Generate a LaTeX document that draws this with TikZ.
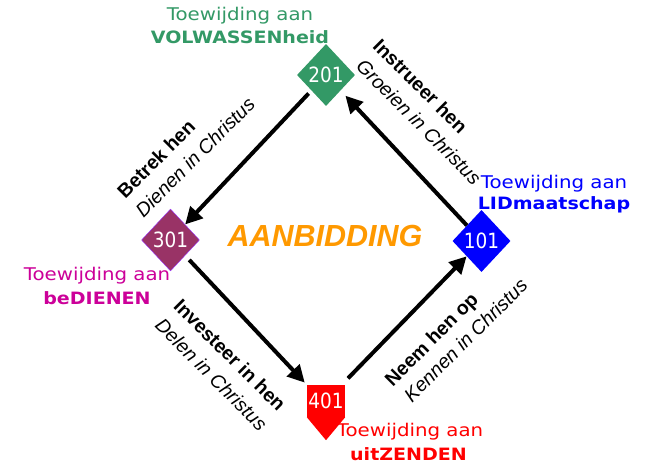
\documentclass[tikz,border=0pt]{standalone}
\usepackage{fontspec}
\usetikzlibrary{shapes.geometric,arrows.meta}
\newfontfamily\verd[FakeStretch=1.13]{DejaVu Sans}
\newfontfamily\verdb[FakeStretch=1.12]{DejaVu Sans}
\newfontfamily\dig[FakeStretch=0.88]{DejaVu Sans}
\newfontfamily\arialf{Liberation Sans}
\definecolor{cgreen}{HTML}{339966}
\definecolor{cpurple}{HTML}{993366}
\definecolor{cviolet}{HTML}{9933FF}
\definecolor{cmagenta}{HTML}{CC0099}
\definecolor{cblue}{HTML}{0000FF}
\definecolor{cred}{HTML}{FF0000}
\definecolor{corange}{HTML}{FF9900}
\begin{document}
\begin{tikzpicture}[x=1pt,y=-1pt,
  dia/.style={shape=diamond, minimum width=58pt, minimum height=62pt, inner sep=0pt, text=white, font=\dig\fontsize{21}{21}\selectfont},
  arr/.style={line width=4pt, -{Triangle[length=17pt,width=17pt]}},
  lab/.style={font=\verd\fontsize{17.5}{17.5}\selectfont, inner sep=0pt},
  labb/.style={font=\verdb\bfseries\fontsize{17}{17}\selectfont, inner sep=0pt},
  rb/.style={font=\arialf\bfseries\fontsize{19.5}{19.5}\selectfont, inner sep=0pt},
  ri/.style={font=\arialf\itshape\fontsize{19.5}{19.5}\selectfont, inner sep=0pt},
]
\useasboundingbox[fill=white] (0,0) rectangle (650,466);

% diamonds
\node[dia, fill=cgreen] (n201) at (326,75) {201};
\node[dia, fill=cpurple, draw=cviolet, line width=0.4pt] (n301) at (170.5,240) {301};
\node[dia, fill=cblue] (n101) at (481.5,241) {101};
% 401 pentagon
\node[fill=cred, minimum width=38pt, minimum height=32pt, inner sep=0pt, text=white,
      font=\dig\fontsize{21}{21}\selectfont] (n401) at (326,401) {401};
\fill[cred] (n401.south west) -- (n401.south east) -- ([yshift=-23pt]n401.south) -- cycle;

% arrows
\draw[arr, shorten >=7pt] (n101) -- (n201);
\draw[arr, shorten <=4pt] (n201) -- (n301);
\draw[arr, shorten <=6pt, shorten >=3pt] (n301) -- (n401.north west);
\draw[arr, shorten <=9pt] (n401) -- (n101);

% centre text
\node[font=\arialf\bfseries\itshape\fontsize{30.5}{30.5}\selectfont, text=corange, inner sep=0pt] (aan) at (325,236) {AANBIDDING};

% coloured labels
\node[lab, text=cgreen] (g1) at (240,16) {Toewijding aan};
\node[labb, text=cgreen] (g2) at (240,37) {VOLWASSENheid};
\node[lab, text=cmagenta] (m1) at (97,276) {Toewijding aan};
\node[labb, text=cmagenta] (m2) at (97,298) {beDIENEN};
\node[lab, text=cblue] (b1) at (554,184) {Toewijding aan};
\node[labb, text=cblue] (b2) at (554,205) {LIDmaatschap};
\node[lab, text=cred] (r1) at (410,432) {Toewijding aan};
\node[labb, text=cred] (r2) at (408.5,454) {uitZENDEN};

% rotated labels
\node[rb, rotate=-45] (t1a) at (420.5,86) {Instrueer hen};
\node[ri, rotate=-45] (t1b) at (419,122) {Groeien in Christus};
\node[rb, rotate=45] (t2a) at (156,159) {Betrek hen};
\node[ri, rotate=45] (t2b) at (195,157) {Dienen in Christus};
\node[rb, rotate=-45] (t3a) at (230,355) {Investeer in hen};
\node[ri, rotate=-45] (t3b) at (211.5,374.5) {Delen in Christus};
\node[rb, rotate=45] (t4a) at (432.5,340.5) {Neem hen op};
\node[ri, rotate=45] (t4b) at (465.5,340) {Kennen in Christus};
\end{tikzpicture}
\end{document}
